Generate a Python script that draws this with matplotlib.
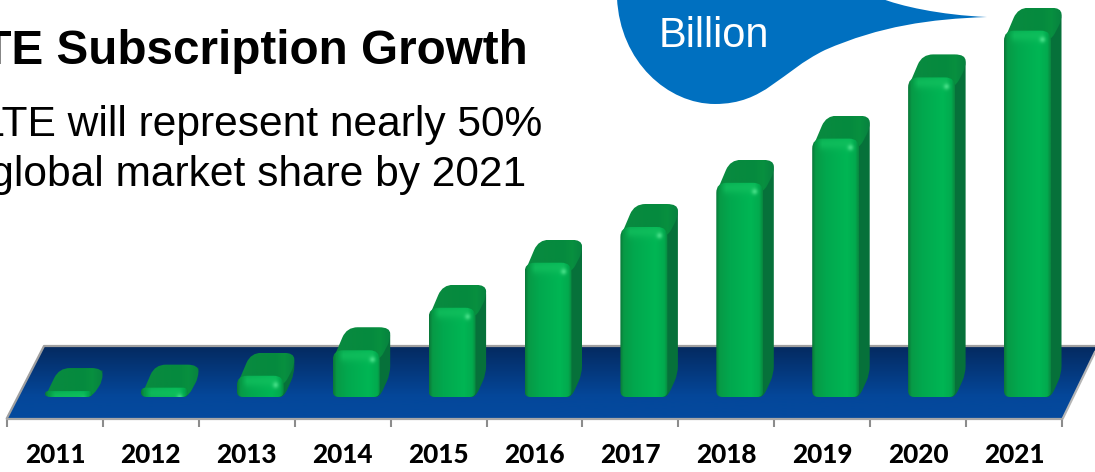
import numpy as np
import matplotlib
matplotlib.use("Agg")
import matplotlib.pyplot as plt
from matplotlib.path import Path
from matplotlib.patches import PathPatch
from matplotlib.transforms import Affine2D

years = ["2011", "2012", "2013", "2014", "2015", "2016", "2017", "2018", "2019", "2020", "2021"]
subs_billion = [0.07, 0.11, 0.25, 0.55, 1.05, 1.58, 2.00, 2.52, 3.04, 3.76, 4.31]
title_text = "LTE Subscription Growth"
body_lines = ["LTE will represent nearly 50%", "of global market share by 2021"]
unit_text = "Billion"

W, H = 1095, 472
fig = plt.figure(figsize=(W / 100, H / 100), dpi=100)
ax = fig.add_axes([0, 0, 1, 1])
band = 95.9
ppu = 85.0
ax.set_xlim(-7 / band, (W - 7) / band)
ax.set_ylim((397 - H) / ppu, 397 / ppu)
ax.patch.set_visible(False)
PX = Affine2D().scale(1, -1).translate(0, H)


def to_px(x, y):
    a, b = ax.transData.transform((x, y))
    return a, H - b


def rounded(points, radii):
    n = len(points)
    verts, codes = [], []
    pts = [np.array(p, float) for p in points]
    for i in range(n):
        p, a, b = pts[i], pts[i - 1], pts[(i + 1) % n]
        r = radii[i]
        u = (a - p) / np.linalg.norm(a - p)
        v = (b - p) / np.linalg.norm(b - p)
        r1 = min(r, np.linalg.norm(a - p) * 0.5)
        r2 = min(r, np.linalg.norm(b - p) * 0.5)
        verts += [p + u * r1, p, p + v * r2]
        codes += [Path.LINETO if i else Path.MOVETO, Path.CURVE3, Path.CURVE3]
    verts.append(verts[0])
    codes.append(Path.CLOSEPOLY)
    return Path(verts, codes)


def rgb(h):
    return np.array(matplotlib.colors.to_rgb(h))


def ramp(stops, t):
    pos = [s[0] for s in stops]
    cols = np.array([rgb(s[1]) for s in stops])
    return np.stack([np.interp(t, pos, cols[:, k]) for k in range(3)], axis=-1)


def fill(path, img, extent, z):
    patch = PathPatch(path, transform=PX, fc="none", ec="none", zorder=z)
    ax.add_patch(patch)
    l, r, b, t = extent
    im = ax.imshow(img, extent=(0, 1, 0, 1), aspect="auto", zorder=z, interpolation="bilinear",
                   origin="lower",
                   transform=Affine2D().scale(r - l, b - t).translate(l, t) + PX)
    im.set_clip_path(patch)


# floor
ys = np.linspace(0, 1, 80)
floor_img = ramp([(0, "#052a60"), (0.7, "#04479a"), (1, "#044a9e")], ys)[:, None, :]
floor_path = Path([(7, 418), (44, 346), (1095, 346), (1095, 352), (1063, 418), (7, 418)],
                  [Path.MOVETO] + [Path.LINETO] * 4 + [Path.CLOSEPOLY])
fill(floor_path, floor_img, (0, W, 418, 346), 1)
ax.plot([7, 44, 1095], [418, 346, 346], transform=PX, color="#a0a0a0", lw=1.6, zorder=2)
ax.plot([1063, 1095], [418, 352], transform=PX, color="#b5b5b5", lw=1.6, zorder=2)

# bars
dx, dy = 10.5, 23
for i, v in enumerate(subs_billion):
    x0, y0 = to_px(i + 38 / band, 0)
    x1, _ = to_px(i + 85 / band, 0)
    _, yt = to_px(i, v)
    hgt = y0 - yt
    zb = 3 + i * 0.01
    # side face
    side = rounded([(x1 - 8, yt + 2), (x1 + dx, yt - dy), (x1 + dx, y0 - dy), (x1, y0), (x1 - 8, y0)],
                   [2, 10, 8, 8, 2])
    ax.add_patch(PathPatch(side, transform=PX, fc="#06713a", ec="none", zorder=zb))
    # top face
    low = min(hgt, 10)
    top = rounded([(x0, yt + low), (x0 + 14, yt - dy), (x1 + dx, yt - dy),
                   (x1 + dx, yt - 10), (x1, yt + low)], [8, 11, 11, 6, 8])
    tw = np.linspace(0, 1, 60)
    cols = ramp([(0, "#0a8a40"), (0.65, "#058a3e"), (0.82, "#08903f"), (1, "#078240")], tw)
    fill(top, cols[None, :, :], (x0, x1 + dx, yt + low, yt - dy), zb + 0.002)
    # front face
    h = max(int(round(hgt)), 3)
    wpx = int(x1 - x0) + 1
    X, Y = np.meshgrid(np.arange(wpx), np.arange(h))
    t = X / (wpx - 1)
    img = ramp([(0, "#0a7a3a"), (0.07, "#079a46"), (0.3, "#02a84e"), (0.75, "#00b654"),
                (0.93, "#02aa4e"), (1, "#088a40")], t)
    g = np.exp(-((Y - 5) / 6.0) ** 2) * np.clip((X - 4) / 6, 0, 1) * np.clip((wpx - 5 - X) / 4, 0, 1)
    img = img + (rgb("#12c05e") - img) * g[..., None] * 0.75
    spot = np.exp(-(((X - (wpx - 9)) / 3.0) ** 2 + ((Y - 9) / 3.0) ** 2))
    img = img + (rgb("#4fe58f") - img) * spot[..., None] * 0.8
    rr = min(10, max(2, hgt * 0.55))
    fr = rounded([(x0, yt), (x1, yt), (x1, y0), (x0, y0)], [rr, rr, 6, 6])
    fill(fr, np.clip(img, 0, 1), (x0, x1, y0, yt), zb + 0.004)

# callout bubble
M, C = Path.MOVETO, Path.CURVE4
bubble = Path(
    [(617, -2),
     (620, 62), (668, 104), (715, 104),
     (765, 104), (780, 72), (825, 50),
     (880, 26), (930, 19), (987, 17),
     (940, 15), (900, 6), (880, -2),
     (617, -2)],
    [M, C, C, C, C, C, C, C, C, C, C, C, C, Path.CLOSEPOLY],
)
ax.add_patch(PathPatch(bubble, transform=PX, fc="#0070c0", ec="none", zorder=5))
ax.text(714, 36, unit_text, transform=PX, color="white", fontsize=30, ha="center", va="center",
        family="Liberation Sans", zorder=6)

# headline text
ax.text(528, 64, title_text, transform=PX, fontsize=34.3, fontweight="bold", ha="right", va="baseline",
        family="Liberation Sans", color="black", zorder=6)
ax.text(542, 136, body_lines[0], transform=PX, fontsize=30.6, ha="right", va="baseline",
        family="Liberation Sans", color="black", zorder=6)
ax.text(526, 186, body_lines[1], transform=PX, fontsize=30.6, ha="right", va="baseline",
        family="Liberation Sans", color="black", zorder=6)

# category axis
for s in ["top", "left", "right"]:
    ax.spines[s].set_visible(False)
ax.yaxis.set_visible(False)
sp = ax.spines["bottom"]
sp.set_position(("data", (397 - 419) / ppu))
sp.set_bounds(0, len(years))
sp.set_color("#a6a6a6")
sp.set_linewidth(1.6)
ax.set_xticks(np.arange(len(years) + 1))
ax.set_xticklabels([])
ax.tick_params(axis="x", which="major", length=6, width=1.5, color="#8c8c8c", direction="out")
ax.set_xticks(np.arange(len(years)) + 0.5, minor=True)
ax.set_xticklabels(years, minor=True, fontsize=18.8, fontweight="black", family="Lato", color="black")
ax.tick_params(axis="x", which="minor", length=0, pad=17)

ax.set_xlim(-7 / band, (W - 7) / band)
ax.set_ylim((397 - H) / ppu, 397 / ppu)
fig.savefig("out.png", dpi=100)
